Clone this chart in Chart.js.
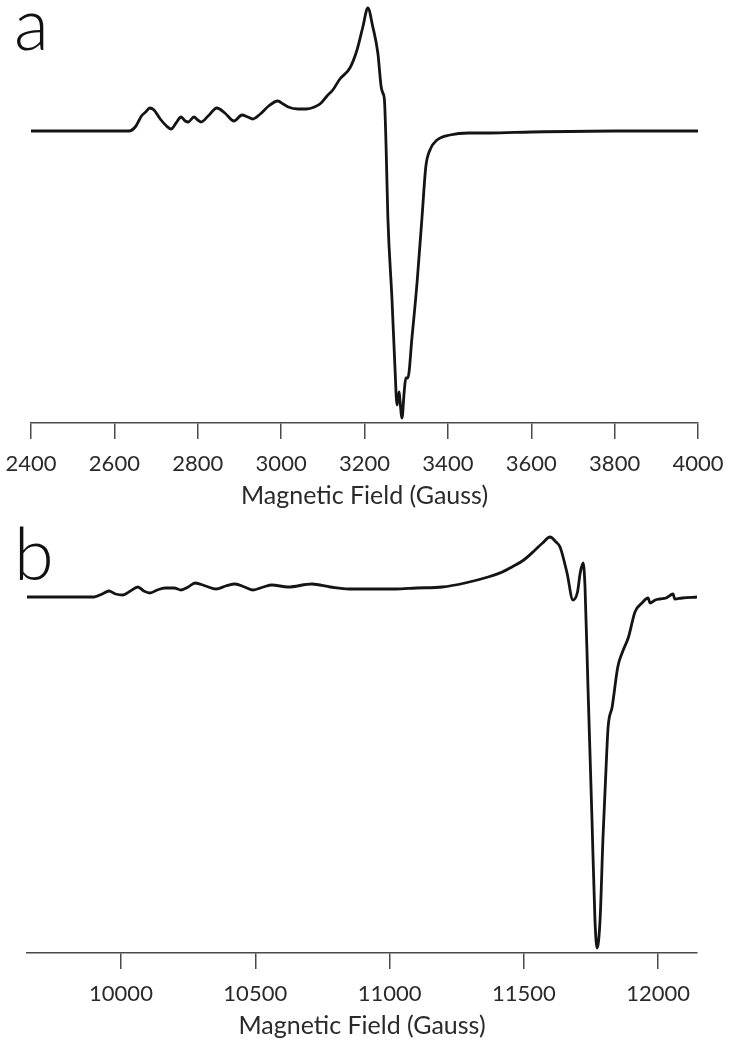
<!DOCTYPE html>
<html>
<head>
<meta charset="utf-8">
<script src="https://cdn.jsdelivr.net/npm/chart.js@4.4.1/dist/chart.umd.min.js"></script>
<style>
  html, body { margin: 0; padding: 0; background: #fff; }
  body { width: 729px; height: 1050px; position: relative; overflow: hidden; }
  canvas { position: absolute; left: 0; }
  .panel-label { position: absolute; left: 14px; font-family: Lato, "DejaVu Sans", sans-serif; font-weight: 300; font-size: 72px; line-height: 72px; color: #111; }
</style>
</head>
<body>
<div class="panel-label" style="top:-14px">a</div>
<div class="panel-label" style="top:516px">b</div>
<canvas id="chartA" width="729" height="515" style="top:0px"></canvas>
<canvas id="chartB" width="729" height="530" style="top:515px"></canvas>
<script>
// Panel a: magnetic field (Gauss) and relative signal (baseline = 0)
const fieldA = [2400, 2500, 2600, 2635, 2650, 2665, 2675, 2685, 2695, 2710, 2725, 2736, 2748, 2760, 2770, 2777, 2791, 2800, 2808, 2825, 2846, 2865, 2887, 2906, 2920, 2932, 2950, 2970, 2992, 3005, 3017, 3040, 3060, 3080, 3096, 3110, 3124, 3141, 3165, 3182, 3196, 3208, 3220, 3232, 3240, 3244, 3248, 3252, 3256, 3266, 3273, 3278, 3283, 3285, 3290, 3295, 3299, 3304, 3314, 3326, 3338, 3347, 3357, 3374, 3405, 3450, 3500, 3600, 3800, 4000];
const signalA = [0, 0, 0, 0, 4, 15, 19, 23, 21, 12, 5, 2, 8, 14, 10, 9, 14, 11, 9, 15, 23, 18, 10, 16, 14, 12, 17, 25, 30, 27, 24, 22, 22, 24, 28, 35, 41, 52, 63, 81, 104, 123, 104, 78, 44, 38, 30, -19, -86, -169, -236, -274, -261, -269, -287, -262, -247, -247, -206, -152, -86, -36, -19, -9, -4, -2, -2, -1, 0, 0];
const ticksA = [2400, 2600, 2800, 3000, 3200, 3400, 3600, 3800, 4000];

// Panel b
const fieldB = [9650, 9900, 9930, 9955, 9980, 10007, 10035, 10063, 10085, 10108, 10135, 10164, 10198, 10224, 10250, 10276, 10315, 10354, 10390, 10425, 10460, 10492, 10530, 10562, 10622, 10711, 10780, 10849, 10950, 11021, 11100, 11196, 11281, 11367, 11420, 11456, 11500, 11542, 11570, 11598, 11620, 11635, 11661, 11683, 11700, 11710, 11721, 11728, 11739, 11754, 11765, 11773, 11784, 11795, 11806, 11814, 11829, 11850, 11866, 11890, 11914, 11940, 11963, 11970, 11990, 12007, 12030, 12056, 12062, 12090, 12145];
const signalB = [0, 0, 3, 6, 3, 2, 6, 10, 6, 4, 7, 9, 9, 7, 10, 14, 11, 8, 11, 13, 10, 7, 10, 12, 10, 13, 10, 8, 8, 8, 9, 10, 14, 20, 25, 30, 37, 47, 54, 60, 55, 50, 24, -3, 5, 24, 34, 10, -90, -223, -323, -351, -323, -240, -173, -130, -110, -70, -56, -40, -15, -6, -1, -6, -3, -2, -1, 3, -2, -1, 0];
const ticksB = [10000, 10500, 11000, 11500, 12000];

const axisTitle = 'Magnetic Field (Gauss)';
const fontFamily = 'Lato, "Liberation Sans", sans-serif';

function makeChart(id, xs, ys, ticks, xmin, xmax, ymin, ymax, pad) {
  const pts = xs.map((x, i) => ({ x: x, y: ys[i] }));
  return new Chart(document.getElementById(id), {
    type: 'line',
    data: { datasets: [{
      data: pts,
      borderColor: '#141414',
      borderWidth: 2.8,
      pointRadius: 0,
      cubicInterpolationMode: 'monotone',
      fill: false
    }]},
    options: {
      responsive: false,
      animation: false,
      layout: { padding: pad },
      plugins: { legend: { display: false }, tooltip: { enabled: false } },
      scales: {
        x: {
          type: 'linear',
          min: xmin, max: xmax,
          afterBuildTicks: (scale) => { scale.ticks = ticks.map(v => ({ value: v })); },
          afterFit: (scale) => { scale.paddingLeft = 0; scale.paddingRight = 0; scale.height = 88; },
          grid: { display: true, drawOnChartArea: false, drawTicks: true, tickLength: 16, color: '#4a4a4a', lineWidth: 1.5 },
          border: { display: true, color: '#4a4a4a', width: 1.5 },
          ticks: { color: '#2a2a2a', padding: 12, maxRotation: 0, autoSkip: false,
                   font: { family: fontFamily, size: 22 },
                   callback: (v) => String(v) },
          title: { display: true, text: axisTitle, color: '#2a2a2a',
                   font: { family: fontFamily, size: 25 }, padding: { top: 0, bottom: 0 } }
        },
        y: { display: false, min: ymin, max: ymax }
      }
    }
  });
}

makeChart('chartA', fieldA, signalA, ticksA, 2400, 4000, -292, 126, { left: 31, right: 31, top: 5, bottom: 4 });
makeChart('chartB', fieldB, signalB, ticksB, 9650, 12145, -356, 72, { left: 27, right: 32, top: 10, bottom: 4 });
</script>
</body>
</html>
